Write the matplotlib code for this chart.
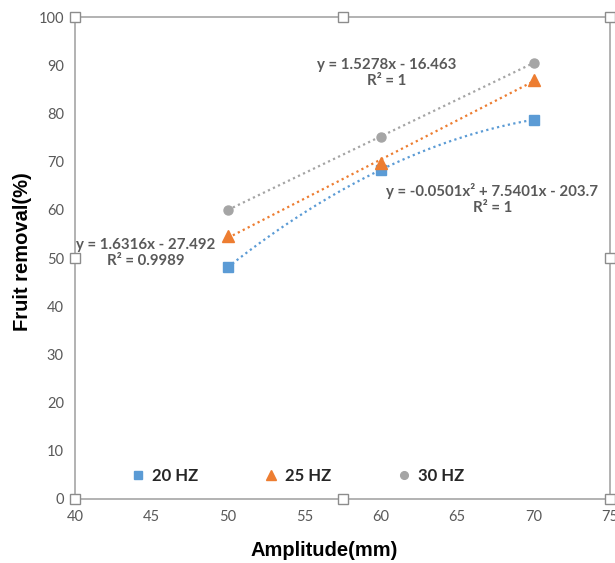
import numpy as np
import matplotlib
matplotlib.use("Agg")
import matplotlib.pyplot as plt

plt.rcParams['font.family'] = ['Lato', 'DejaVu Sans']

amplitude = [50, 60, 70]
hz20 = [48.1, 68.3, 78.7]
hz25 = [54.5, 69.8, 87.0]
hz30 = [60.0, 75.2, 90.5]
series_labels = ['20 HZ', '25 HZ', '30 HZ']
x_ticks = [40, 45, 50, 55, 60, 65, 70, 75]
y_ticks = [0, 10, 20, 30, 40, 50, 60, 70, 80, 90, 100]
eq_labels = ['y = -0.0501x² + 7.5401x - 203.7\nR² = 1',
             'y = 1.6316x - 27.492\nR² = 0.9989',
             'y = 1.5278x - 16.463\nR² = 1']

colors = ['#5B9BD5', '#ED7D31', '#A5A5A5']
markers = ['s', '^', 'o']
msizes = [6.5, 8, 6.5]
fit_deg = [2, 1, 1]

fig = plt.figure(figsize=(6.15, 5.63), dpi=100)
ax = fig.add_axes([0.122, 0.1137, 0.870, 0.856])

xs = np.array(amplitude, dtype=float)
xf = np.linspace(xs.min(), xs.max(), 100)
for ys, c, m, ms, lab, d in zip([hz20, hz25, hz30], colors, markers, msizes, series_labels, fit_deg):
    coef = np.polyfit(xs, ys, d)
    ax.plot(xf, np.polyval(coef, xf), linestyle=(0, (1, 1.5)), color=c, lw=1.6, zorder=2)
    ax.plot(xs, ys, linestyle='none', marker=m, color=c, markersize=ms, label=lab, zorder=3)

ax.set_xlim(40, 75)
ax.set_ylim(0, 100)
ax.set_xticks(x_ticks)
ax.set_yticks(y_ticks)
ax.tick_params(axis='both', length=0, labelsize=10.5, labelcolor='#595959', pad=8)

for s in ['left', 'bottom', 'right', 'top']:
    ax.spines[s].set_color('#A6A6A6')
    ax.spines[s].set_linewidth(1.2)

lab_kw = dict(fontsize=14.5, fontweight='bold', family=['Liberation Sans', 'DejaVu Sans'])
ax.set_xlabel('Amplitude(mm)', **lab_kw)
ax.set_ylabel('Fruit removal(%)', **lab_kw)
ax.xaxis.set_label_coords(0.465, -0.088)
ax.yaxis.set_label_coords(-0.080, 0.514)

txt_kw = dict(fontsize=10.8, fontweight='bold', color='#595959', ha='center', va='center',
              linespacing=1.15)
ax.text(67.3, 62.2, eq_labels[0], **txt_kw)
ax.text(44.6, 51.0, eq_labels[1], **txt_kw)
ax.text(60.4, 88.4, eq_labels[2], **txt_kw)

leg = ax.legend(loc='lower left', bbox_to_anchor=(0.075, 0.0), ncol=3, frameon=False,
                fontsize=12, columnspacing=3.9, handletextpad=0.3, handlelength=1.0,
                markerscale=0.85)
for t in leg.get_texts():
    t.set_fontweight('bold')
    t.set_color('#262626')

# selection handles of the chart frame
for hx, hy in [(40, 0), (57.5, 0), (75, 0), (40, 50), (75, 50), (40, 100), (57.5, 100), (75, 100)]:
    ax.plot(hx, hy, marker='s', markersize=7, markerfacecolor='white',
            markeredgecolor='#8C8C8C', markeredgewidth=1, clip_on=False, zorder=5)

fig.savefig('out.png', dpi=100, facecolor='white')
